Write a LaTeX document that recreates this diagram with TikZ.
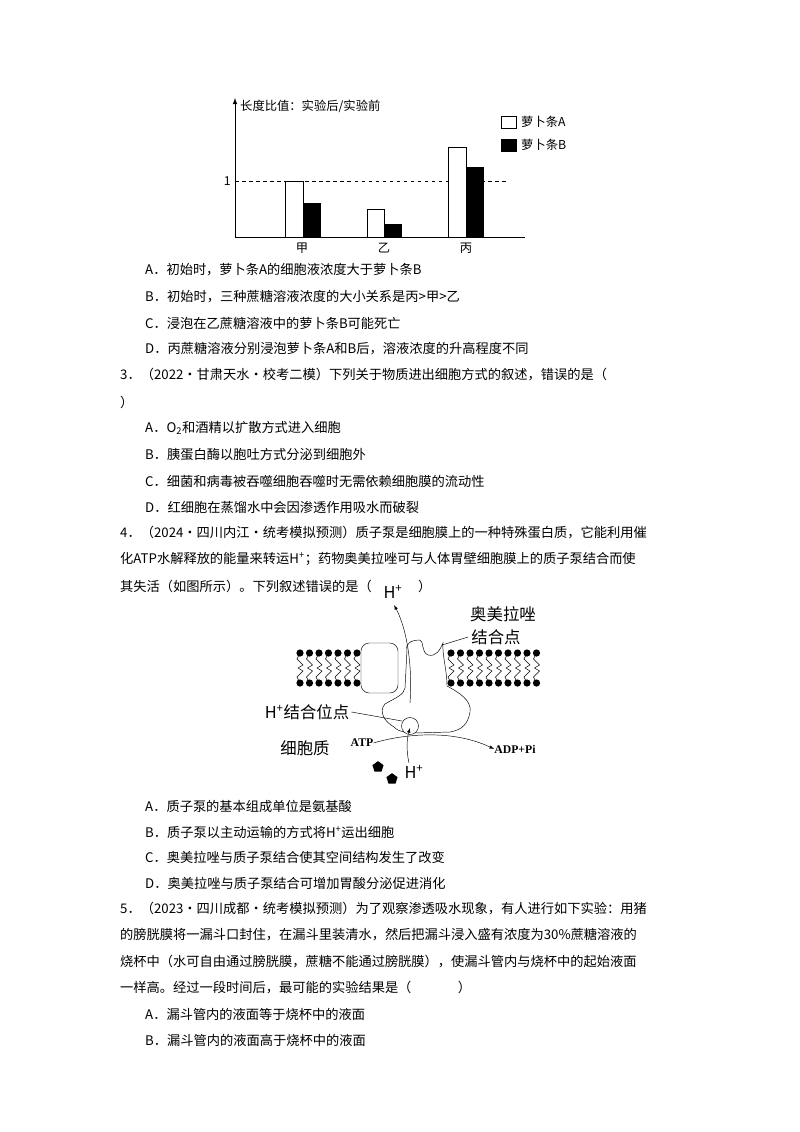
\documentclass[tikz,border=0pt]{standalone}
\usepackage{fontspec}
\setmainfont{Liberation Serif}
\newfontfamily\cjk{Noto Sans CJK SC}
\usetikzlibrary{shapes.geometric}

\tikzset{
  line/.style={anchor=west,inner sep=0pt,font=\cjk\fontsize{11.3}{12}\selectfont},
  lbl/.style={inner sep=0pt,font=\cjk\fontsize{14}{15}\selectfont},
  chartlbl/.style={inner sep=0pt,font=\cjk\fontsize{10.5}{11}\selectfont},
  barA/.style={draw,thick,fill=white},
  barB/.style={draw,thick,fill=black}
}

\begin{document}
\begin{tikzpicture}[x=0.3mm,y=-0.3mm]
\useasboundingbox (0,0) rectangle (800,1132);

% chart
\coordinate (orig) at (235,237);
\coordinate (ytop) at (235,98);
\coordinate (xend) at (525,237);
\draw[thick,-latex] (orig) -- (ytop);
\draw[thick] (orig) -- (xend);
\draw[thick,dashed] (235,181) -- (508,181);
\node[chartlbl,anchor=east] (one) at (231,181) {1};
\node[chartlbl,anchor=west] (ttl) at (240,106) {长度比值：实验后/实验前};
\draw[barA] (285,237) rectangle (303,181);
\draw[barB] (303,237) rectangle (320,203);
\draw[barA] (367,237) rectangle (384,209);
\draw[barB] (384,237) rectangle (401,224);
\draw[barA] (448,237) rectangle (466,147);
\draw[barB] (466,237) rectangle (483,167);
\node[chartlbl] (jia) at (302,248) {甲};
\node[chartlbl] (yi) at (384,248) {乙};
\node[chartlbl] (bing) at (466,248) {丙};
\draw[barA,semithick] (501,116) rectangle (516,128);
\node[chartlbl,anchor=west] (legA) at (521,122) {萝卜条A};
\draw[barB,semithick] (501,139) rectangle (516,151);
\node[chartlbl,anchor=west] (legB) at (521,145) {萝卜条B};

% text
\node[line] (q2a) at (145,270) {A．初始时，萝卜条A的细胞液浓度大于萝卜条B};
\node[line] (q2b) at (145,297) {B．初始时，三种蔗糖溶液浓度的大小关系是丙>甲>乙};
\node[line] (q2c) at (145,323) {C．浸泡在乙蔗糖溶液中的萝卜条B可能死亡};
\node[line] (q2d) at (145,349) {D．丙蔗糖溶液分别浸泡萝卜条A和B后，溶液浓度的升高程度不同};
\node[line] (q3) at (120,375) {3．（2022·甘肃天水·校考二模）下列关于物质进出细胞方式的叙述，错误的是（};
\node[line] (q3x) at (120,402) {）};
\node[line] (q3a) at (145,428) {A．O\textsubscript{2}和酒精以扩散方式进入细胞};
\node[line] (q3b) at (145,455) {B．胰蛋白酶以胞吐方式分泌到细胞外};
\node[line] (q3c) at (145,481) {C．细菌和病毒被吞噬细胞吞噬时无需依赖细胞膜的流动性};
\node[line] (q3d) at (145,507) {D．红细胞在蒸馏水中会因渗透作用吸水而破裂};
\node[line] (q4) at (120,533) {4．（2024·四川内江·统考模拟预测）质子泵是细胞膜上的一种特殊蛋白质，它能利用催};
\node[line] (q4b) at (120,559) {化ATP水解释放的能量来转运H\textsuperscript{+}；药物奥美拉唑可与人体胃壁细胞膜上的质子泵结合而使};
\node[line] (q4c) at (120,586) {其失活（如图所示）。下列叙述错误的是（\hspace{3.5em}）};

% membrane
\foreach \x in {300,309.5,...,358} {
  \fill (\x,653) circle (3.6);
  \fill (\x,683) circle (3.6);
  \draw (\x,653) -- (\x-3,659) -- (\x+3,665) -- (\x-2,668);
  \draw (\x,683) -- (\x-3,677) -- (\x+3,671) -- (\x-2,668);
}
\foreach \x in {451,460.5,...,538} {
  \fill (\x,653) circle (3.6);
  \fill (\x,683) circle (3.6);
  \draw (\x,653) -- (\x-3,659) -- (\x+3,665) -- (\x-2,668);
  \draw (\x,683) -- (\x-3,677) -- (\x+3,671) -- (\x-2,668);
}
\draw[rounded corners=7pt,fill=white] (361,643) rectangle (398,693);
\draw[fill=white] (407,650) .. controls (405,643) and (412,640) .. (420,640)
  .. controls (424,641) and (421,652) .. (428,655)
  .. controls (436,657) and (440,650) .. (443,643)
  .. controls (442,655) and (447,670) .. (447,686)
  .. controls (458,692) and (472,700) .. (470,712)
  .. controls (468,724) and (462,730) .. (450,732)
  -- (414,733)
  .. controls (404,733) and (396,730) .. (394,727)
  .. controls (385,722) and (378,712) .. (385,704)
  .. controls (395,698) and (404,695) .. (405,688)
  -- cycle;
\draw[fill=white] (410,726) circle (8.5);
\node[lbl] (hout) at (393,592) {H\textsuperscript{+}};
\node[lbl] (drug) at (503,614) {奥美拉唑};
\node[lbl] (site) at (496,637) {结合点};
\node[lbl] (hsite) at (307,712) {H\textsuperscript{+}结合位点};
\node[lbl] (cyto) at (305,748) {细胞质};
\node[inner sep=0pt,font=\bfseries\fontsize{10}{11}\selectfont] (atp) at (362,743) {ATP};
\node[inner sep=0pt,font=\bfseries\fontsize{10}{11}\selectfont] (adp) at (515,749) {ADP+Pi};
\node[lbl] (hin) at (414,772) {H\textsuperscript{+}};
\node[regular polygon,regular polygon sides=5,fill=black,inner sep=0pt,minimum size=10pt] (p1) at (378,767) {};
\node[regular polygon,regular polygon sides=5,fill=black,inner sep=0pt,minimum size=10pt] (p2) at (392,779) {};
\coordinate (hstart) at (410,703);
\coordinate (hupper) at (394,605);
\coordinate (hlow) at (409,763);
\coordinate (hcirc) at (410,728);
\draw[-latex] (hstart) .. controls (413,660) and (405,625) .. (hupper);
\draw[-latex] (hlow) .. controls (406,750) and (407,738) .. (hcirc);
\draw[-latex] (atp.east) .. controls (400,735) and (450,728) .. (adp.west);
\draw (site.west) ++(-3,0) -- (442,645);
\draw (hsite.east) ++(2,0) -- (402,721);

% questions
\node[line] (q4a) at (145,806) {A．质子泵的基本组成单位是氨基酸};
\node[line] (q4bb) at (145,832) {B．质子泵以主动运输的方式将H\textsuperscript{+}运出细胞};
\node[line] (q4cc) at (145,857) {C．奥美拉唑与质子泵结合使其空间结构发生了改变};
\node[line] (q4d) at (145,883) {D．奥美拉唑与质子泵结合可增加胃酸分泌促进消化};
\node[line] (q5) at (120,909) {5．（2023·四川成都·统考模拟预测）为了观察渗透吸水现象，有人进行如下实验：用猪};
\node[line] (q5b) at (120,935) {的膀胱膜将一漏斗口封住，在漏斗里装清水，然后把漏斗浸入盛有浓度为30\%蔗糖溶液的};
\node[line] (q5c) at (120,962) {烧杯中（水可自由通过膀胱膜，蔗糖不能通过膀胱膜），使漏斗管内与烧杯中的起始液面};
\node[line] (q5d) at (120,988) {一样高。经过一段时间后，最可能的实验结果是（\hspace{3.5em}）};
\node[line] (q5a) at (145,1014) {A．漏斗管内的液面等于烧杯中的液面};
\node[line] (q5bb) at (145,1040) {B．漏斗管内的液面高于烧杯中的液面};
\end{tikzpicture}
\end{document}
